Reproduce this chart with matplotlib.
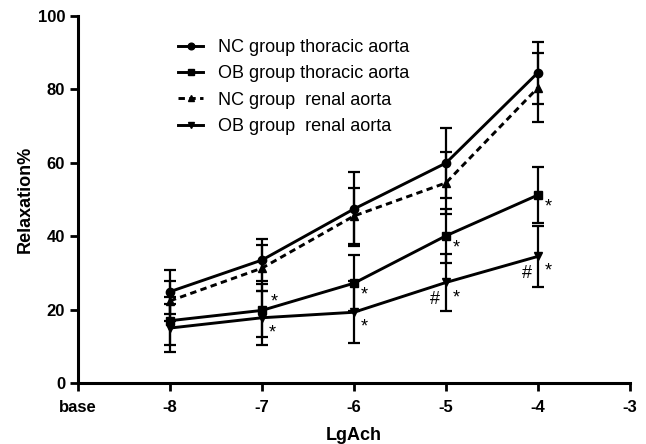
import matplotlib.pyplot as plt

# log concentration of ACh; -9 stands for "base"
x = [-8, -7, -6, -5, -4]

nc_thor = [24.9, 33.5, 47.4, 59.9, 84.5]
nc_thor_err = [6.0, 5.7, 10.1, 9.5, 8.4]
ob_thor = [17.0, 19.8, 27.2, 40.1, 51.2]
ob_thor_err = [6.5, 7.1, 7.6, 7.4, 7.7]
nc_ren = [22.4, 31.3, 45.5, 54.5, 80.4]
nc_ren_err = [5.4, 6.3, 7.6, 8.4, 9.4]
ob_ren = [15.0, 17.8, 19.3, 27.4, 34.5]
ob_ren_err = [6.5, 7.4, 8.5, 7.7, 8.4]

labels = ['NC group thoracic aorta', 'OB group thoracic aorta',
          'NC group  renal aorta', 'OB group  renal aorta']

xticks = [-9, -8, -7, -6, -5, -4, -3]
xticklabels = ['base', '-8', '-7', '-6', '-5', '-4', '-3']

plt.rcParams['font.family'] = ['Liberation Sans', 'DejaVu Sans']
fig = plt.figure(figsize=(6.46, 4.44), dpi=100)
ax = fig.add_axes([0.1207, 0.137, 0.975 - 0.1207, 0.9646 - 0.137])

common = dict(color='black', lw=2.1, elinewidth=1.6, capsize=4, capthick=1.6, ms=6)
c1 = ax.errorbar(x, nc_thor, yerr=nc_thor_err, marker='o', **common)
c2 = ax.errorbar(x, ob_thor, yerr=ob_thor_err, marker='s', **common)
c3 = ax.errorbar(x, nc_ren, yerr=nc_ren_err, marker='^', ls=(0, (2.2, 1.5)), **common)
c4 = ax.errorbar(x, ob_ren, yerr=ob_ren_err, marker='v', **common)

# significance marks
star = dict(fontsize=13, ha='center', va='center', textcoords='offset pixels')
ax.annotate('*', (x[1], ob_thor[1]), xytext=(12, 8), **star)
for i in range(2, 5):
    ax.annotate('*', (x[i], ob_thor[i]), xytext=(10, -12), **star)
for i in range(1, 5):
    ax.annotate('*', (x[i], ob_ren[i]), xytext=(10, -15), **star)
for i in range(3, 5):
    ax.annotate('#', (x[i], ob_ren[i]), xytext=(-11, -17), fontsize=13,
                ha='center', va='center', textcoords='offset pixels')

ax.set_xlim(-9, -3)
ax.set_ylim(0, 100)
ax.set_xticks(xticks)
ax.set_xticklabels(xticklabels)
ax.set_yticks([0, 20, 40, 60, 80, 100])
for s in ['top', 'right']:
    ax.spines[s].set_visible(False)
for s in ['left', 'bottom']:
    ax.spines[s].set_linewidth(2.2)
ax.tick_params(width=2, length=6, labelsize=12)
ax.tick_params(axis='y', pad=3.2)
ax.tick_params(axis='x', pad=6)
for lab in ax.get_xticklabels() + ax.get_yticklabels():
    lab.set_fontweight('bold')

ax.set_xlabel('LgAch', fontsize=13, fontweight='bold', va='center')
ax.set_ylabel('Relaxation%', fontsize=13, fontweight='bold', va='center')
ax.xaxis.set_label_coords(0.5, -0.1437)
ax.yaxis.set_label_coords(-0.096, 0.5)

handles = [c[0] for c in (c1, c2, c3, c4)]
ax.legend(handles, labels, loc='upper left',
          bbox_to_anchor=(178 / 646, 1 - 39 / 444),
          bbox_transform=fig.transFigure, frameon=False, fontsize=13,
          handlelength=1.4, handletextpad=0.8, labelspacing=0.52,
          borderpad=0, borderaxespad=0, markerscale=0.8)

fig.savefig('out.png', dpi=100)
